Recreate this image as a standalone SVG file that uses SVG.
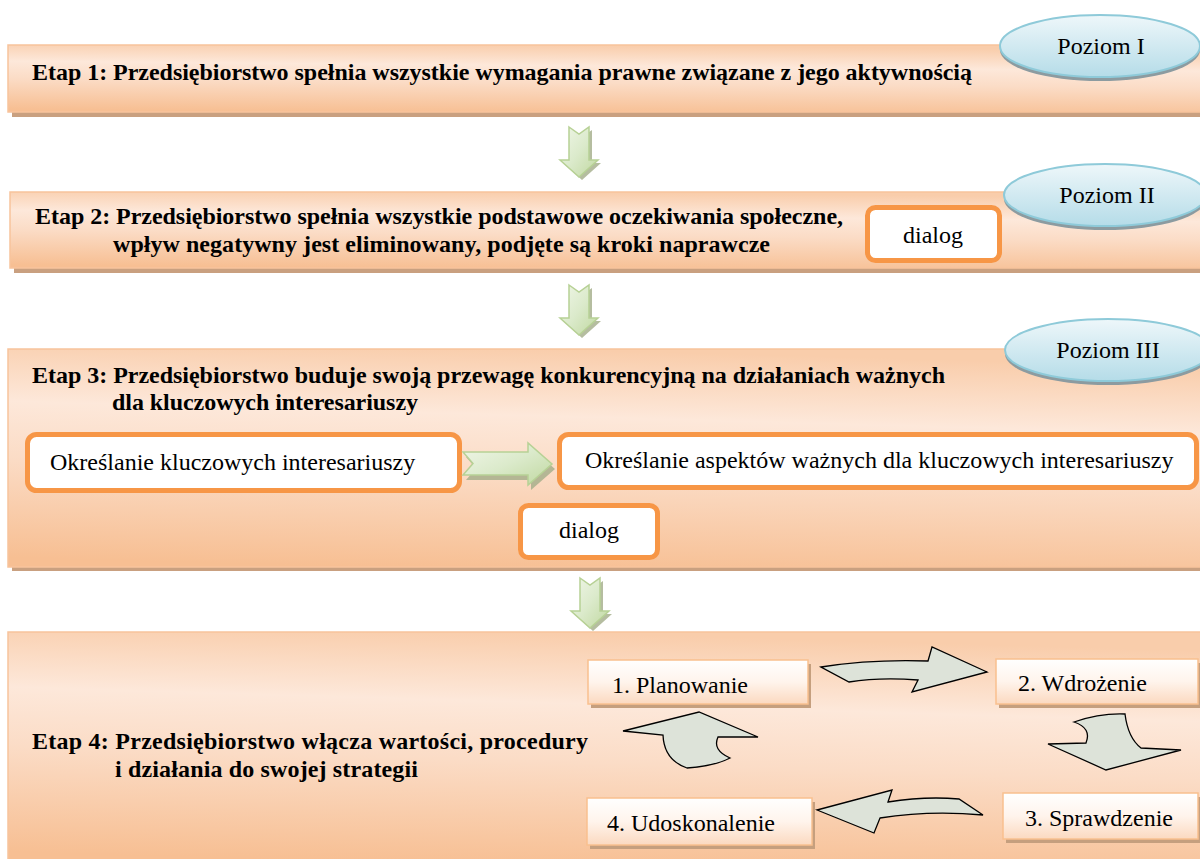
<svg xmlns="http://www.w3.org/2000/svg" width="1200" height="859" viewBox="0 0 1200 859">
<defs>
<linearGradient id="stageG" x1="0.45" y1="0" x2="0.3" y2="1">
<stop offset="0" stop-color="#f9cdab"/>
<stop offset="0.3" stop-color="#fde8da"/>
<stop offset="0.55" stop-color="#fbdcc6"/>
<stop offset="1" stop-color="#f7bf93"/>
</linearGradient>
<linearGradient id="ellG" x1="0" y1="0" x2="0" y2="1">
<stop offset="0" stop-color="#eef7fa"/>
<stop offset="1" stop-color="#b5dce8"/>
</linearGradient>
<linearGradient id="stepG" x1="0" y1="0" x2="0" y2="1">
<stop offset="0" stop-color="#ffffff"/>
<stop offset="0.5" stop-color="#fff4ec"/>
<stop offset="1" stop-color="#fbd9c0"/>
</linearGradient>
<linearGradient id="greenG" x1="0" y1="0" x2="1" y2="1">
<stop offset="0" stop-color="#f0f6e8"/>
<stop offset="0.5" stop-color="#dbeacb"/>
<stop offset="1" stop-color="#c0d8a0"/>
</linearGradient>
<path id="downArrow" d="M569,127 L579,134 L589,127 L589,160 L598,160 L579,177 L560,160 L569,160 Z"/>
</defs>
<style>
.stage{fill:url(#stageG);stroke:#f8c39c;stroke-width:1.5}
.shadow{fill:#c9a080}
.title{font-family:"Liberation Serif","Times New Roman",serif;font-weight:bold;font-size:24px;fill:#000}
.txt{font-family:"Liberation Serif","Times New Roman",serif;font-size:24px;fill:#000}
.ell{fill:url(#ellG);stroke:#8ecad9;stroke-width:2}
.ellsh{fill:#8c9ba0}
.obox{fill:#fff;stroke:#f79646;stroke-width:5}
.step{fill:url(#stepG);stroke:#f9c08f;stroke-width:1.5}
.stepsh{fill:#c59f7e}
.garrow{fill:url(#greenG);stroke:#b7d195;stroke-width:1.5}
.gsh{fill:#a3ad88;opacity:0.8}
.carrow{fill:#dde3d9;stroke:#000;stroke-width:1.3;stroke-linejoin:miter}
</style>
<rect width="1200" height="859" fill="#fff"/>

<g id="stage1">
<rect class="shadow" x="12" y="49" width="1190" height="68"/>
<rect class="stage" x="8" y="45" width="1194" height="67"/>
<text class="title" x="32" y="80" textLength="940" lengthAdjust="spacing">Etap 1: Przedsiębiorstwo spełnia wszystkie wymagania prawne związane z jego aktywnością</text>
</g>
<g id="poziom1">
<ellipse class="ellsh" cx="1100" cy="50" rx="100" ry="31"/>
<ellipse class="ell" cx="1100" cy="46" rx="100" ry="31"/>
<text class="txt" x="1101" y="54" text-anchor="middle">Poziom I</text>
</g>

<g id="stage2">
<rect class="shadow" x="14" y="196" width="1190" height="77"/>
<rect class="stage" x="10" y="192" width="1194" height="76"/>
<text class="title" x="35" y="224" textLength="808" lengthAdjust="spacing">Etap 2: Przedsiębiorstwo spełnia wszystkie podstawowe oczekiwania społeczne,</text>
<text class="title" x="113" y="252" textLength="657" lengthAdjust="spacing">wpływ negatywny jest eliminowany, podjęte są kroki naprawcze</text>
</g>
<g id="dialog1">
<rect class="obox" x="867.5" y="207.5" width="132" height="53" rx="8"/>
<text class="txt" x="933" y="243" text-anchor="middle">dialog</text>
</g>
<g id="poziom2">
<ellipse class="ellsh" cx="1105" cy="199" rx="101" ry="31"/>
<ellipse class="ell" cx="1105" cy="195" rx="101" ry="31"/>
<text class="txt" x="1107" y="203" text-anchor="middle">Poziom II</text>
</g>

<g id="stage3">
<rect class="shadow" x="12" y="353" width="1190" height="218"/>
<rect class="stage" x="8" y="349" width="1194" height="218"/>
<text class="title" x="32" y="383" textLength="913" lengthAdjust="spacing">Etap 3: Przedsiębiorstwo buduje swoją przewagę konkurencyjną na działaniach ważnych</text>
<text class="title" x="112" y="410" textLength="306" lengthAdjust="spacing">dla kluczowych interesariuszy</text>
</g>
<g id="poziom3">
<ellipse class="ellsh" cx="1108" cy="354" rx="103" ry="31"/>
<ellipse class="ell" cx="1108" cy="350" rx="103" ry="31"/>
<text class="txt" x="1108" y="358" text-anchor="middle">Poziom III</text>
</g>
<g id="kluczowi">
<rect class="obox" x="27.5" y="434.5" width="432" height="56" rx="9"/>
<text class="txt" x="50" y="470">Określanie kluczowych interesariuszy</text>
</g>
<g id="aspekty">
<rect class="obox" x="559.5" y="434.5" width="637" height="53" rx="9"/>
<text class="txt" x="585" y="468">Określanie aspektów ważnych dla kluczowych interesariuszy</text>
</g>
<g id="dialog2">
<rect class="obox" x="520.5" y="505.5" width="137" height="52" rx="8"/>
<text class="txt" x="589" y="538" text-anchor="middle">dialog</text>
</g>

<g id="stage4">
<rect class="shadow" x="12" y="636" width="1190" height="230"/>
<rect class="stage" x="8" y="632" width="1194" height="230"/>
<text class="title" x="32" y="749" textLength="556" lengthAdjust="spacing">Etap 4: Przedsiębiorstwo włącza wartości, procedury</text>
<text class="title" x="115" y="777" textLength="303" lengthAdjust="spacing">i działania do swojej strategii</text>
</g>
<g id="step1">
<rect class="stepsh" x="591" y="664" width="220" height="44"/>
<rect class="step" x="588" y="660" width="220" height="44"/>
<text class="txt" x="612" y="693">1. Planowanie</text>
</g>
<g id="step2">
<rect class="stepsh" x="999" y="663" width="202" height="45"/>
<rect class="step" x="996" y="659" width="202" height="45"/>
<text class="txt" x="1018" y="691">2. Wdrożenie</text>
</g>
<g id="step3">
<rect class="stepsh" x="1006" y="797" width="195" height="46"/>
<rect class="step" x="1003" y="793" width="195" height="46"/>
<text class="txt" x="1025" y="826">3. Sprawdzenie</text>
</g>
<g id="step4">
<rect class="stepsh" x="590" y="802" width="225" height="47"/>
<rect class="step" x="587" y="798" width="225" height="47"/>
<text class="txt" x="607" y="831">4. Udoskonalenie</text>
</g>

<g id="connectors">
<use href="#downArrow" class="gsh" transform="translate(3,3)"/>
<use href="#downArrow" class="garrow"/>
<use href="#downArrow" class="gsh" transform="translate(3,161)"/>
<use href="#downArrow" class="garrow" transform="translate(0,158)"/>
<use href="#downArrow" class="gsh" transform="translate(14,454)"/>
<use href="#downArrow" class="garrow" transform="translate(11,451)"/>
<path class="gsh" d="M466,457 L531,457 L531,448 L555,469 L531,490 L531,480 L466,480 L476,468.5 Z"/>
<path class="garrow" d="M463,452 L528,452 L528,443 L552,464 L528,485 L528,475 L463,475 L473,463.5 Z"/>
<path class="carrow" d="M821,667 Q872,659 928,661 L932,647 L987,672 L912,692 L918,680 Q880,677 849,682 Z"/>
<path class="carrow" d="M1074,722 Q1100,713 1125,714 Q1128,738 1141,748 L1181,750 L1106,770 L1048,744 L1086,743 Q1092,728 1074,722 Z"/>
<path class="carrow" d="M817,810 L892,790 L888,802 Q925,796 959,799 L983,815 Q930,810 880,818 L874,833 Z"/>
<path class="carrow" d="M687,768 Q715,766 730,758 Q712,750 718,737 L758,737 L699,712 L623,731 L663,735 Q664,760 687,768 Z"/>
</g>
</svg>
